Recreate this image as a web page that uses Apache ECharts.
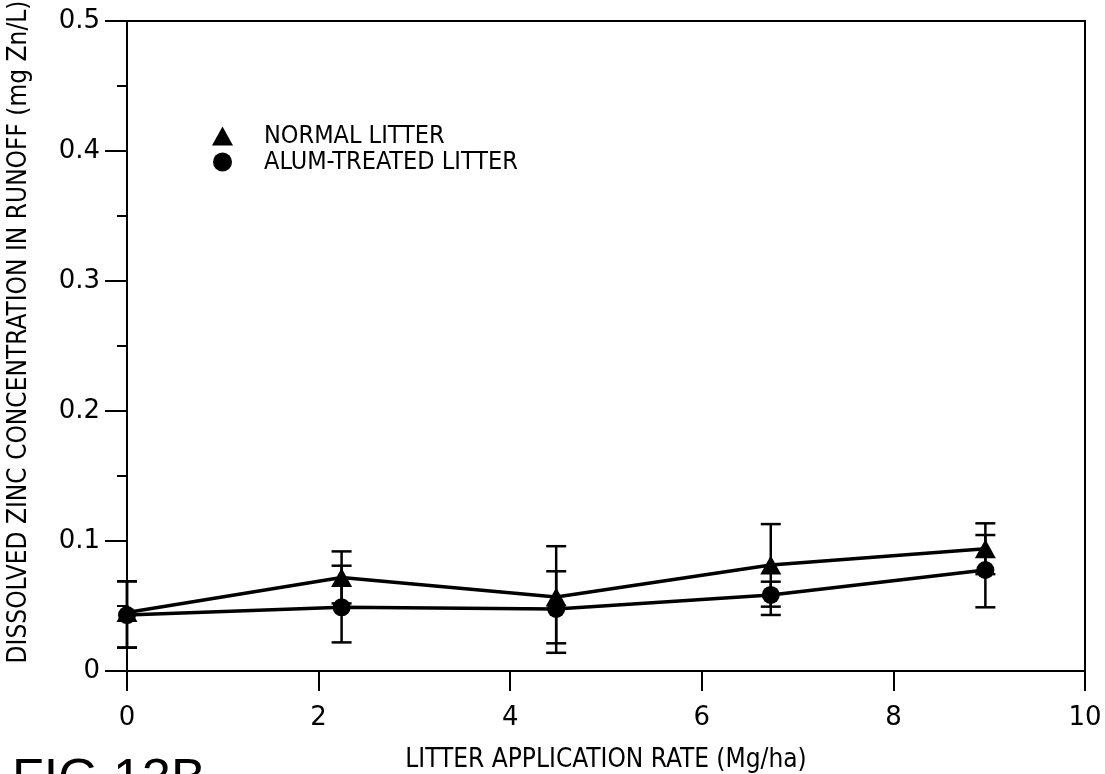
<!DOCTYPE html>
<html>
<head>
<meta charset="utf-8">
<script src="https://cdn.jsdelivr.net/npm/echarts@6/dist/echarts.min.js"></script>
<style>
html,body{margin:0;padding:0;background:#fff;}
#c{width:1105px;height:774px;}
</style>
</head>
<body>
<div id="c"></div>
<script>
// ---- data ----
const rates = [0, 2.24, 4.48, 6.72, 8.96];              // Mg/ha
const normalMean = [0.045, 0.072, 0.057, 0.0815, 0.094];
const normalLow  = [0.018, 0.052, 0.014, 0.0495, 0.0745];
const normalHigh = [0.069, 0.092, 0.096, 0.113, 0.1136];
const alumMean   = [0.043, 0.049, 0.0477, 0.0585, 0.0777];
const alumLow    = [0.018, 0.022, 0.0213, 0.0431, 0.049];
const alumHigh   = [0.069, 0.081, 0.0767, 0.0687, 0.1046];
const seriesNames = ['NORMAL LITTER', 'ALUM-TREATED LITTER'];
const xTitle = 'LITTER APPLICATION RATE (Mg/ha)';
const yTitle = 'DISSOLVED ZINC CONCENTRATION IN RUNOFF (mg Zn/L)';
const figLabel = 'FIG.13B';

const narrow = "'Liberation Sans Narrow','DejaVu Sans Condensed','Arial Narrow',sans-serif";
const numFont = "'DejaVu Sans',sans-serif";

function pairs(xs, ys){ return xs.map((x,i)=>[x, ys[i]]); }
function errData(xs, lo, hi){ return xs.map((x,i)=>[x, lo[i], hi[i]]); }

function errRender(params, api){
  const x = api.value(0), lo = api.value(1), hi = api.value(2);
  const pLo = api.coord([x, lo]), pHi = api.coord([x, hi]);
  const w = 10;
  const st = {stroke:'#000', lineWidth:2.5};
  return {type:'group', children:[
    {type:'line', shape:{x1:pLo[0], y1:pLo[1], x2:pHi[0], y2:pHi[1]}, style:st},
    {type:'line', shape:{x1:pLo[0]-w, y1:pLo[1], x2:pLo[0]+w, y2:pLo[1]}, style:st},
    {type:'line', shape:{x1:pHi[0]-w, y1:pHi[1], x2:pHi[0]+w, y2:pHi[1]}, style:st}
  ]};
}

const chart = echarts.init(document.getElementById('c'), null, {renderer:'canvas'});
chart.setOption({
  backgroundColor:'#fff',
  animation:false,
  grid:{left:127, right:20, top:21, bottom:103, containLabel:false, outerBoundsMode:'none',
    show:true, borderColor:'#000', borderWidth:2, backgroundColor:'transparent'},
  legend:{
    orient:'vertical', left:207, top:118, itemGap:0, itemWidth:21, itemHeight:19,
    data:[{name:seriesNames[0], icon:'triangle'},{name:seriesNames[1], icon:'circle'}],
    textStyle:{fontFamily:narrow, fontSize:25, color:'#000', lineHeight:26, padding:[0,0,0,26]},
    selectedMode:false
  },
  xAxis:{
    type:'value', min:0, max:10, interval:2,
    axisLine:{lineStyle:{color:'#000', width:2}},
    axisTick:{length:20, lineStyle:{color:'#000', width:2}},
    splitLine:{show:false},
    axisLabel:{fontFamily:numFont, fontSize:26, color:'#000', margin:34},
    name:xTitle, nameLocation:'middle', nameGap:76,
    nameTextStyle:{fontFamily:narrow, fontSize:26, color:'#000'}
  },
  yAxis:{
    type:'value', min:0, max:0.5, interval:0.1,
    axisLine:{lineStyle:{color:'#000', width:2}},
    axisTick:{length:22, lineStyle:{color:'#000', width:2}},
    minorTick:{show:true, splitNumber:2, length:10, lineStyle:{color:'#000', width:2}},
    splitLine:{show:false}, minorSplitLine:{show:false},
    axisLabel:{fontFamily:numFont, fontSize:26, color:'#000', margin:27,
      formatter:v=> v===0 ? '0' : v.toFixed(1)},
    name:yTitle, nameLocation:'middle', nameGap:95, nameRotate:90,
    nameTextStyle:{fontFamily:narrow, fontSize:26, color:'#000', padding:[0,0,0,28]}
  },
  graphic:[{type:'text', left:12, top:755, style:{text:figLabel, font:"52px 'Liberation Sans',Arial,sans-serif", fill:'#000'}}],
  series:[
    {type:'custom', name:'errN', renderItem:errRender, data:errData(rates, normalLow, normalHigh), z:1, silent:true},
    {type:'custom', name:'errA', renderItem:errRender, data:errData(rates, alumLow, alumHigh), z:1, silent:true},
    {type:'line', name:seriesNames[0], data:pairs(rates, normalMean), symbol:'triangle', symbolSize:[21,19],
      itemStyle:{color:'#000'}, lineStyle:{color:'#000', width:3.5}, z:3},
    {type:'line', name:seriesNames[1], data:pairs(rates, alumMean), symbol:'circle', symbolSize:18,
      itemStyle:{color:'#000'}, lineStyle:{color:'#000', width:3.5}, z:3}
  ]
});
</script>
</body>
</html>
